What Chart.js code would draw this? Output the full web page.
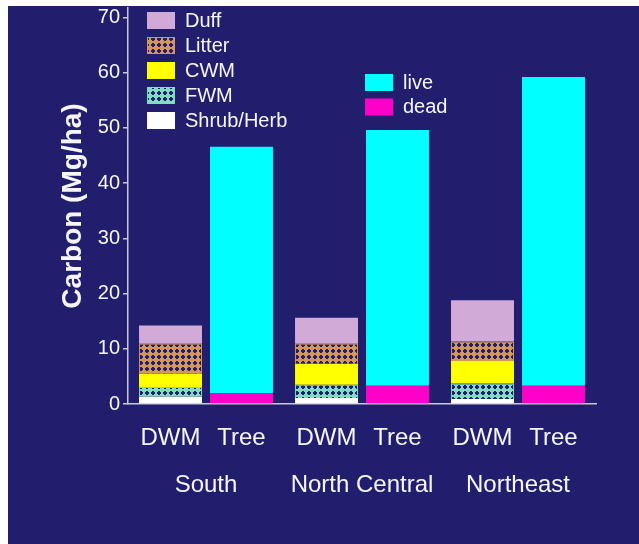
<!DOCTYPE html>
<html><head><meta charset="utf-8">
<script src="https://cdn.jsdelivr.net/npm/chart.js@4.4.1/dist/chart.umd.min.js"></script>
<style>html,body{margin:0;padding:0;background:#fff}#wrap{width:639px;height:544px;position:relative}</style>
</head><body><div id="wrap"><canvas id="c"></canvas></div>
<script>
// ---- data ----
const regions = ['South', 'North Central', 'Northeast'];
const stackNames = ['DWM', 'Tree'];
const shrubHerb = [1.3, 1.1, 0.9];
const fwm = [1.8, 2.4, 2.8];
const cwm = [2.4, 3.8, 4.1];
const litter = [5.4, 3.6, 3.5];
const duff = [3.3, 4.7, 7.5];
const dead = [2.0, 3.3, 3.3];
const live = [44.6, 46.3, 55.9];
const yTicks = [0, 10, 20, 30, 40, 50, 60, 70];
const legendDWM = ['Duff', 'Litter', 'CWM', 'FWM', 'Shrub/Herb'];
const legendTree = ['live', 'dead'];

// ---- styles ----
const NAVY = '#221e6e';
const TXT = '#f6f6fa';
const FONT = "'Liberation Sans', Arial, sans-serif";
function makePattern(color) {
  const c = document.createElement('canvas');
  c.width = 6; c.height = 6;
  const x = c.getContext('2d');
  x.fillStyle = color; x.fillRect(0, 0, 6, 6);
  x.fillStyle = NAVY; x.fillRect(2, 1, 2, 4); x.fillRect(1, 2, 4, 2);
  return x.createPattern(c, 'repeat');
}
const litterFill = makePattern('#d4975a');
const fwmFill = makePattern('#82dcc0');

const datasets = [
  {label: 'Shrub/Herb', data: shrubHerb, stack: stackNames[0], backgroundColor: '#ffffff', borderWidth: 0},
  {label: 'FWM', data: fwm, stack: stackNames[0], backgroundColor: fwmFill, borderColor: '#82dcc0', borderWidth: 1},
  {label: 'CWM', data: cwm, stack: stackNames[0], backgroundColor: '#ffff00', borderWidth: 0},
  {label: 'Litter', data: litter, stack: stackNames[0], backgroundColor: litterFill, borderColor: '#d4975a', borderWidth: 1},
  {label: 'Duff', data: duff, stack: stackNames[0], backgroundColor: '#d2aad7', borderWidth: 0},
  {label: 'dead', data: dead, stack: stackNames[1], backgroundColor: '#ff00c8', borderWidth: 0},
  {label: 'live', data: live, stack: stackNames[1], backgroundColor: '#00ffff', borderWidth: 0}
];

const bgPlugin = {
  id: 'bg',
  beforeDraw(chart) {
    const ctx = chart.ctx;
    ctx.save();
    ctx.fillStyle = '#ffffff';
    ctx.fillRect(0, 0, chart.width, chart.height);
    ctx.fillStyle = NAVY;
    ctx.fillRect(8, 6, chart.width - 8, chart.height - 6);
    ctx.restore();
  }
};

const labelPlugin = {
  id: 'stackLabels',
  afterDraw(chart) {
    const ctx = chart.ctx;
    ctx.save();
    ctx.font = '24px ' + FONT;
    ctx.fillStyle = TXT;
    ctx.textAlign = 'center';
    ctx.textBaseline = 'middle';
    const y = chart.chartArea.bottom + 34;
    stackNames.forEach(name => {
      const idx = chart.data.datasets.findIndex(d => d.stack === name);
      const meta = chart.getDatasetMeta(idx);
      meta.data.forEach(el => ctx.fillText(name, el.x, y));
    });
    // legends
    function drawLegend(names, x0, y0, step) {
      names.forEach((n, i) => {
        const ds = chart.data.datasets.find(d => d.label === n);
        const y = y0 + i * step;
        ctx.fillStyle = ds.backgroundColor;
        ctx.fillRect(x0, y, 28, 17);
        if (ds.borderWidth) {
          ctx.strokeStyle = ds.borderColor;
          ctx.lineWidth = 1;
          ctx.strokeRect(x0 + 0.5, y + 0.5, 27, 16);
        }
        ctx.fillStyle = TXT;
        ctx.font = '20px ' + FONT;
        ctx.textAlign = 'left';
        ctx.textBaseline = 'middle';
        ctx.fillText(n, x0 + 38, y + 9);
      });
    }
    drawLegend(legendDWM, 147, 12, 25);
    drawLegend(legendTree, 365, 74, 24.5);
    ctx.restore();
  }
};

new Chart(document.getElementById('c'), {
  type: 'bar',
  data: {labels: regions, datasets},
  plugins: [bgPlugin, labelPlugin],
  options: {
    responsive: true,
    maintainAspectRatio: false,
    animation: false,
    layout: {padding: {left: 38, right: 43, top: 8, bottom: 0}},
    categoryPercentage: 0.91,
    barPercentage: 0.887,
    plugins: {legend: {display: false}, tooltip: {enabled: false}},
    scales: {
      x: {
        stacked: true,
        grid: {display: false, drawTicks: false, tickLength: 0},
        border: {display: true, color: '#c8c8dc', width: 1.5},
        ticks: {color: TXT, font: {family: FONT, size: 24}, padding: 67, maxRotation: 0, autoSkip: false},
        afterFit(scale) { scale.height = 140; scale.paddingLeft = 0; scale.paddingRight = 0; }
      },
      y: {
        stacked: true,
        min: 0,
        max: 71.7,
        grid: {display: true, drawOnChartArea: false, drawTicks: true, tickLength: 5, color: '#c8c8dc', lineWidth: 1.5},
        border: {display: true, color: '#c8c8dc', width: 1.5},
        ticks: {color: TXT, font: {family: FONT, size: 20}, padding: 3},
        afterBuildTicks(scale) { scale.ticks = yTicks.map(v => ({value: v})); },
        afterFit(scale) { scale.width = 90; scale.paddingTop = 0; scale.paddingBottom = 0; },
        title: {display: true, text: 'Carbon (Mg/ha)', color: TXT, font: {family: FONT, size: 28, weight: 'bold'}, padding: {top: 18, bottom: 0}}
      }
    }
  }
});
</script></body></html>
